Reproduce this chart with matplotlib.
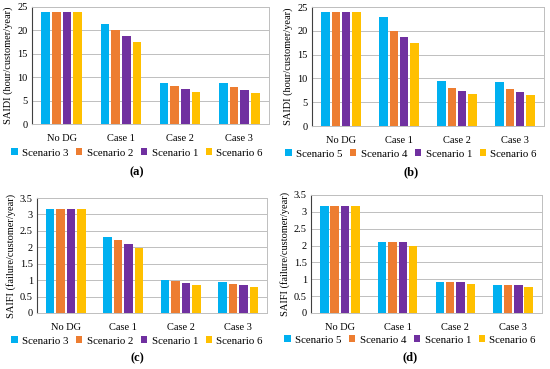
import numpy as np
import matplotlib.pyplot as plt

plt.rcParams['font.family'] = ['Liberation Serif', 'DejaVu Serif']

cases = ['No DG', 'Case 1', 'Case 2', 'Case 3']
colors = ['#00B0F0', '#ED7D31', '#7030A0', '#FFC000']

# (a) SAIDI
saidi_a_labels = ['Scenario 3', 'Scenario 2', 'Scenario 1', 'Scenario 6']
saidi_a = [
    [24.0, 21.4, 8.8, 8.7],
    [24.0, 20.1, 8.2, 8.0],
    [24.0, 18.8, 7.5, 7.3],
    [24.0, 17.5, 6.8, 6.6],
]
# (b) SAIDI
saidi_b_labels = ['Scenario 5', 'Scenario 4', 'Scenario 1', 'Scenario 6']
saidi_b = [
    [24.0, 22.8, 9.4, 9.2],
    [24.0, 20.0, 8.0, 7.8],
    [24.0, 18.8, 7.4, 7.2],
    [24.0, 17.5, 6.7, 6.5],
]
# (c) SAIFI
saifi_c_labels = ['Scenario 3', 'Scenario 2', 'Scenario 1', 'Scenario 6']
saifi_c = [
    [3.17, 2.32, 1.01, 0.95],
    [3.17, 2.22, 0.96, 0.89],
    [3.17, 2.10, 0.91, 0.84],
    [3.17, 1.98, 0.86, 0.78],
]
# (d) SAIFI
saifi_d_labels = ['Scenario 5', 'Scenario 4', 'Scenario 1', 'Scenario 6']
saifi_d = [
    [3.17, 2.11, 0.91, 0.84],
    [3.17, 2.11, 0.91, 0.84],
    [3.17, 2.11, 0.91, 0.84],
    [3.17, 2.00, 0.86, 0.78],
]

W, H = 550, 369


def px_axes(fig, left, right, top, bottom):
    return fig.add_axes([left / W, 1 - bottom / H, (right - left) / W, (bottom - top) / H])


def draw_panel(fig, ax, data, labels, ymax, ystep, ylabel, tag, cx, leg_y, tag_y):
    x = np.arange(len(cases))
    width = 0.147
    pitch = 0.18
    for i, vals in enumerate(data):
        ax.bar(x + (i - 1.5) * pitch, vals, width, color=colors[i], label=labels[i], zorder=3)
    ax.set_xlim(-0.5, len(cases) - 0.5)
    ax.set_ylim(0, ymax)
    ticks = np.arange(0, ymax + ystep / 2, ystep)
    ax.set_yticks(ticks)
    ax.set_yticklabels([f'{t:g}' for t in ticks])
    ax.set_xticks(x)
    ax.set_xticklabels(cases)
    ax.tick_params(axis='both', length=0, labelsize=7.5, pad=3)
    ax.tick_params(axis='x', pad=7)
    ax.grid(axis='y', color='#BFBFBF', linewidth=0.7, zorder=0)
    for s in ['top', 'right', 'bottom']:
        ax.spines[s].set_color('#BFBFBF')
        ax.spines[s].set_linewidth(0.7)
    ax.spines['left'].set_color('#404040')
    ax.spines['left'].set_linewidth(0.8)
    ax.set_ylabel(ylabel, fontsize=7.5, labelpad=3)
    ax.legend(loc='center', bbox_to_anchor=(cx / W, 1 - leg_y / H), bbox_transform=fig.transFigure,
              ncol=4, frameon=False, fontsize=7.8, handlelength=0.6, handleheight=0.6,
              handletextpad=0.4, columnspacing=0.7, borderaxespad=0)
    fig.text(cx / W, 1 - tag_y / H, tag, ha='center', va='center', fontsize=9, fontweight='bold')


fig = plt.figure(figsize=(5.5, 3.69), dpi=100)

ax_a = px_axes(fig, 32, 269, 7, 124)
draw_panel(fig, ax_a, saidi_a, saidi_a_labels, 25, 5, 'SAIDI (hour/customer/year)', '(a)',
           137, 153, 172)

ax_b = px_axes(fig, 312, 544, 7, 126)
draw_panel(fig, ax_b, saidi_b, saidi_b_labels, 25, 5, 'SAIDI (hour/customer/year)', '(b)',
           411, 154, 172)

ax_c = px_axes(fig, 37, 267, 198, 313)
draw_panel(fig, ax_c, saifi_c, saifi_c_labels, 3.5, 0.5, 'SAIFI (failure/customer/year)', '(c)',
           137, 341, 358)

ax_d = px_axes(fig, 311, 542, 195, 313)
draw_panel(fig, ax_d, saifi_d, saifi_d_labels, 3.5, 0.5, 'SAIFI (failure/customer/year)', '(d)',
           410, 340, 357)

fig.savefig('out.png', dpi=100)
